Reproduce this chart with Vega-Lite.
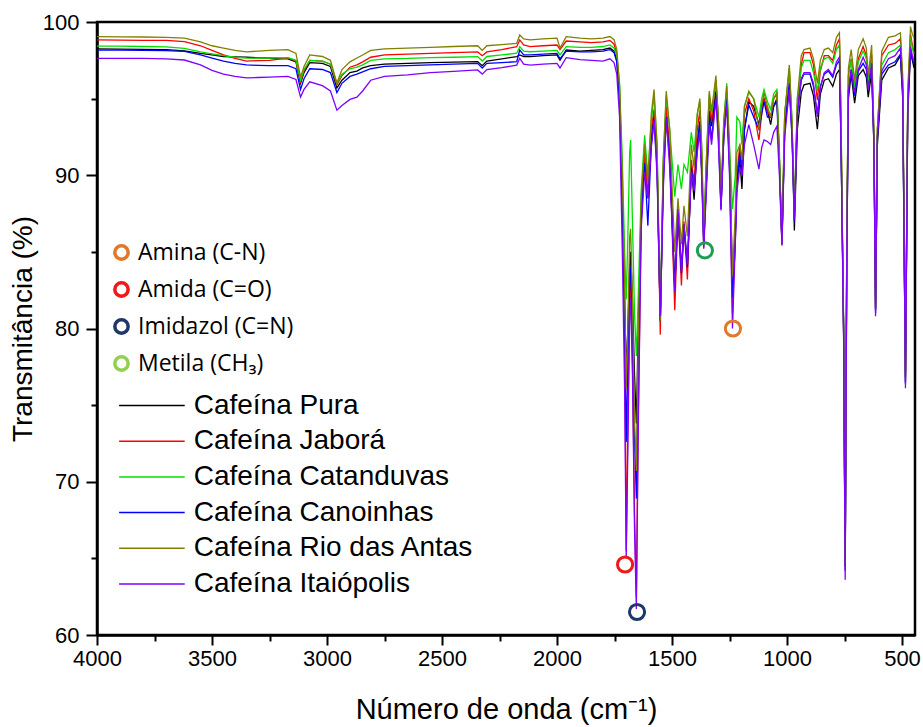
{
"$schema":"https://vega.github.io/schema/vega-lite/v6.json",
"width":818,"height":613,"autosize":"none",
"padding":{"left":97,"top":22,"right":8,"bottom":92},
"background":"white",
"config":{"view":{"stroke":"black","strokeWidth":2.5},"font":"Liberation Sans",
"axis":{"grid":false,"domainColor":"black","tickColor":"black","labelColor":"black","titleColor":"black","labelFont":"Liberation Sans","titleFont":"Liberation Sans","titleFontWeight":"normal","labelFlush":false,"labelOverlap":false}},
"datasets":{
"marks":[
{"tipo":"Amina (C-N)","x":1235,"y":80.0},
{"tipo":"Amida (C=O)","x":1704,"y":64.6},
{"tipo":"Imidazol (C=N)","x":1652,"y":61.5},
{"tipo":"Metila (CH₃)","x":1357,"y":85.1}
]},
"layer":[
{"data":{"values":[
{"s":"Pura","x":4000,"y":98.24},{"s":"Jaborá","x":4000,"y":98.83},{"s":"Catanduvas","x":4000,"y":98.43},{"s":"Canoinhas","x":4000,"y":98.17},{"s":"Rio das Antas","x":4000,"y":99.04},{"s":"Itaiópolis","x":4000,"y":97.63},
{"s":"Pura","x":3900,"y":98.23},{"s":"Jaborá","x":3900,"y":98.82},{"s":"Catanduvas","x":3900,"y":98.42},{"s":"Canoinhas","x":3900,"y":98.16},{"s":"Rio das Antas","x":3900,"y":99.03},{"s":"Itaiópolis","x":3900,"y":97.62},
{"s":"Pura","x":3800,"y":98.22},{"s":"Jaborá","x":3800,"y":98.80},{"s":"Catanduvas","x":3800,"y":98.40},{"s":"Canoinhas","x":3800,"y":98.15},{"s":"Rio das Antas","x":3800,"y":99.02},{"s":"Itaiópolis","x":3800,"y":97.62},
{"s":"Pura","x":3700,"y":98.20},{"s":"Jaborá","x":3700,"y":98.80},{"s":"Catanduvas","x":3700,"y":98.38},{"s":"Canoinhas","x":3700,"y":98.13},{"s":"Rio das Antas","x":3700,"y":99.00},{"s":"Itaiópolis","x":3700,"y":97.60},
{"s":"Pura","x":3620,"y":98.12},{"s":"Jaborá","x":3620,"y":98.72},{"s":"Catanduvas","x":3620,"y":98.28},{"s":"Canoinhas","x":3620,"y":98.08},{"s":"Rio das Antas","x":3620,"y":98.95},{"s":"Itaiópolis","x":3620,"y":97.52},
{"s":"Pura","x":3550,"y":97.95},{"s":"Jaborá","x":3550,"y":98.45},{"s":"Catanduvas","x":3550,"y":98.05},{"s":"Canoinhas","x":3550,"y":97.85},{"s":"Rio das Antas","x":3550,"y":98.70},{"s":"Itaiópolis","x":3550,"y":97.20},
{"s":"Pura","x":3500,"y":97.85},{"s":"Jaborá","x":3500,"y":98.15},{"s":"Catanduvas","x":3500,"y":97.92},{"s":"Canoinhas","x":3500,"y":97.65},{"s":"Rio das Antas","x":3500,"y":98.45},{"s":"Itaiópolis","x":3500,"y":96.85},
{"s":"Pura","x":3450,"y":97.75},{"s":"Jaborá","x":3450,"y":97.85},{"s":"Catanduvas","x":3450,"y":97.80},{"s":"Canoinhas","x":3450,"y":97.45},{"s":"Rio das Antas","x":3450,"y":98.30},{"s":"Itaiópolis","x":3450,"y":96.60},
{"s":"Pura","x":3400,"y":97.72},{"s":"Jaborá","x":3400,"y":97.62},{"s":"Catanduvas","x":3400,"y":97.70},{"s":"Canoinhas","x":3400,"y":97.30},{"s":"Rio das Antas","x":3400,"y":98.15},{"s":"Itaiópolis","x":3400,"y":96.45},
{"s":"Pura","x":3350,"y":97.70},{"s":"Jaborá","x":3350,"y":97.45},{"s":"Catanduvas","x":3350,"y":97.65},{"s":"Canoinhas","x":3350,"y":97.20},{"s":"Rio das Antas","x":3350,"y":98.05},{"s":"Itaiópolis","x":3350,"y":96.35},
{"s":"Pura","x":3300,"y":97.66},{"s":"Jaborá","x":3300,"y":97.48},{"s":"Catanduvas","x":3300,"y":97.64},{"s":"Canoinhas","x":3300,"y":97.17},{"s":"Rio das Antas","x":3300,"y":98.10},{"s":"Itaiópolis","x":3300,"y":96.38},
{"s":"Pura","x":3250,"y":97.65},{"s":"Jaborá","x":3250,"y":97.50},{"s":"Catanduvas","x":3250,"y":97.65},{"s":"Canoinhas","x":3250,"y":97.15},{"s":"Rio das Antas","x":3250,"y":98.15},{"s":"Itaiópolis","x":3250,"y":96.40},
{"s":"Pura","x":3170,"y":97.60},{"s":"Jaborá","x":3170,"y":97.65},{"s":"Catanduvas","x":3170,"y":97.68},{"s":"Canoinhas","x":3170,"y":97.15},{"s":"Rio das Antas","x":3170,"y":98.20},{"s":"Itaiópolis","x":3170,"y":96.45},
{"s":"Pura","x":3135,"y":97.40},{"s":"Jaborá","x":3135,"y":97.45},{"s":"Catanduvas","x":3135,"y":97.50},{"s":"Canoinhas","x":3135,"y":96.95},{"s":"Rio das Antas","x":3135,"y":97.95},{"s":"Itaiópolis","x":3135,"y":96.25},
{"s":"Pura","x":3115,"y":96.0},{"s":"Jaborá","x":3115,"y":96.1},{"s":"Catanduvas","x":3115,"y":96.2},{"s":"Canoinhas","x":3115,"y":95.6},{"s":"Rio das Antas","x":3115,"y":96.4},{"s":"Itaiópolis","x":3115,"y":95.1},
{"s":"Pura","x":3100,"y":96.7},{"s":"Jaborá","x":3100,"y":96.8},{"s":"Catanduvas","x":3100,"y":96.9},{"s":"Canoinhas","x":3100,"y":96.3},{"s":"Rio das Antas","x":3100,"y":97.1},{"s":"Itaiópolis","x":3100,"y":95.6},
{"s":"Pura","x":3075,"y":97.35},{"s":"Jaborá","x":3075,"y":97.5},{"s":"Catanduvas","x":3075,"y":97.5},{"s":"Canoinhas","x":3075,"y":96.95},{"s":"Rio das Antas","x":3075,"y":97.85},{"s":"Itaiópolis","x":3075,"y":96.1},
{"s":"Pura","x":3020,"y":97.3},{"s":"Jaborá","x":3020,"y":97.45},{"s":"Catanduvas","x":3020,"y":97.45},{"s":"Canoinhas","x":3020,"y":96.9},{"s":"Rio das Antas","x":3020,"y":97.75},{"s":"Itaiópolis","x":3020,"y":95.85},
{"s":"Pura","x":2985,"y":97.1},{"s":"Jaborá","x":2985,"y":97.25},{"s":"Catanduvas","x":2985,"y":97.25},{"s":"Canoinhas","x":2985,"y":96.7},{"s":"Rio das Antas","x":2985,"y":97.5},{"s":"Itaiópolis","x":2985,"y":95.5},
{"s":"Pura","x":2957,"y":95.7},{"s":"Jaborá","x":2957,"y":95.9},{"s":"Catanduvas","x":2957,"y":96.0},{"s":"Canoinhas","x":2957,"y":95.4},{"s":"Rio das Antas","x":2957,"y":96.0},{"s":"Itaiópolis","x":2957,"y":94.25},
{"s":"Pura","x":2935,"y":96.2},{"s":"Jaborá","x":2935,"y":96.5},{"s":"Catanduvas","x":2935,"y":96.6},{"s":"Canoinhas","x":2935,"y":96.0},{"s":"Rio das Antas","x":2935,"y":96.9},{"s":"Itaiópolis","x":2935,"y":94.55},
{"s":"Pura","x":2900,"y":96.7},{"s":"Jaborá","x":2900,"y":97.05},{"s":"Catanduvas","x":2900,"y":96.95},{"s":"Canoinhas","x":2900,"y":96.45},{"s":"Rio das Antas","x":2900,"y":97.4},{"s":"Itaiópolis","x":2900,"y":94.95},
{"s":"Pura","x":2870,"y":96.8},{"s":"Jaborá","x":2870,"y":97.2},{"s":"Catanduvas","x":2870,"y":97.05},{"s":"Canoinhas","x":2870,"y":96.6},{"s":"Rio das Antas","x":2870,"y":97.65},{"s":"Itaiópolis","x":2870,"y":95.1},
{"s":"Pura","x":2845,"y":97.0},{"s":"Jaborá","x":2845,"y":97.4},{"s":"Catanduvas","x":2845,"y":97.2},{"s":"Canoinhas","x":2845,"y":96.75},{"s":"Rio das Antas","x":2845,"y":97.85},{"s":"Itaiópolis","x":2845,"y":95.5},
{"s":"Pura","x":2810,"y":97.15},{"s":"Jaborá","x":2810,"y":97.7},{"s":"Catanduvas","x":2810,"y":97.5},{"s":"Canoinhas","x":2810,"y":96.95},{"s":"Rio das Antas","x":2810,"y":98.15},{"s":"Itaiópolis","x":2810,"y":96.2},
{"s":"Pura","x":2750,"y":97.25},{"s":"Jaborá","x":2750,"y":97.85},{"s":"Catanduvas","x":2750,"y":97.6},{"s":"Canoinhas","x":2750,"y":97.1},{"s":"Rio das Antas","x":2750,"y":98.25},{"s":"Itaiópolis","x":2750,"y":96.45},
{"s":"Pura","x":2650,"y":97.3},{"s":"Jaborá","x":2650,"y":97.9},{"s":"Catanduvas","x":2650,"y":97.62},{"s":"Canoinhas","x":2650,"y":97.15},{"s":"Rio das Antas","x":2650,"y":98.3},{"s":"Itaiópolis","x":2650,"y":96.55},
{"s":"Pura","x":2550,"y":97.35},{"s":"Jaborá","x":2550,"y":97.95},{"s":"Catanduvas","x":2550,"y":97.68},{"s":"Canoinhas","x":2550,"y":97.2},{"s":"Rio das Antas","x":2550,"y":98.35},{"s":"Itaiópolis","x":2550,"y":96.7},
{"s":"Pura","x":2450,"y":97.38},{"s":"Jaborá","x":2450,"y":98.0},{"s":"Catanduvas","x":2450,"y":97.7},{"s":"Canoinhas","x":2450,"y":97.25},{"s":"Rio das Antas","x":2450,"y":98.4},{"s":"Itaiópolis","x":2450,"y":96.78},
{"s":"Pura","x":2345,"y":97.42},{"s":"Jaborá","x":2345,"y":98.05},{"s":"Catanduvas","x":2345,"y":97.74},{"s":"Canoinhas","x":2345,"y":97.3},{"s":"Rio das Antas","x":2345,"y":98.45},{"s":"Itaiópolis","x":2345,"y":96.87},
{"s":"Pura","x":2325,"y":97.15},{"s":"Jaborá","x":2325,"y":97.8},{"s":"Catanduvas","x":2325,"y":97.45},{"s":"Canoinhas","x":2325,"y":97.0},{"s":"Rio das Antas","x":2325,"y":98.15},{"s":"Itaiópolis","x":2325,"y":96.6},
{"s":"Pura","x":2305,"y":97.45},{"s":"Jaborá","x":2305,"y":98.05},{"s":"Catanduvas","x":2305,"y":97.75},{"s":"Canoinhas","x":2305,"y":97.3},{"s":"Rio das Antas","x":2305,"y":98.45},{"s":"Itaiópolis","x":2305,"y":96.9},
{"s":"Pura","x":2240,"y":97.6},{"s":"Jaborá","x":2240,"y":98.2},{"s":"Catanduvas","x":2240,"y":97.85},{"s":"Canoinhas","x":2240,"y":97.35},{"s":"Rio das Antas","x":2240,"y":98.52},{"s":"Itaiópolis","x":2240,"y":97.02},
{"s":"Pura","x":2175,"y":97.74},{"s":"Jaborá","x":2175,"y":98.39},{"s":"Catanduvas","x":2175,"y":97.96},{"s":"Canoinhas","x":2175,"y":97.41},{"s":"Rio das Antas","x":2175,"y":98.61},{"s":"Itaiópolis","x":2175,"y":97.19},
{"s":"Pura","x":2162,"y":97.85},{"s":"Jaborá","x":2162,"y":98.83},{"s":"Catanduvas","x":2162,"y":98.39},{"s":"Canoinhas","x":2162,"y":98.17},{"s":"Rio das Antas","x":2162,"y":99.15},{"s":"Itaiópolis","x":2162,"y":97.63},
{"s":"Pura","x":2145,"y":97.75},{"s":"Jaborá","x":2145,"y":98.5},{"s":"Catanduvas","x":2145,"y":98.1},{"s":"Canoinhas","x":2145,"y":97.85},{"s":"Rio das Antas","x":2145,"y":98.9},{"s":"Itaiópolis","x":2145,"y":97.25},
{"s":"Pura","x":2117,"y":97.74},{"s":"Jaborá","x":2117,"y":98.39},{"s":"Catanduvas","x":2117,"y":98.06},{"s":"Canoinhas","x":2117,"y":97.85},{"s":"Rio das Antas","x":2117,"y":98.83},{"s":"Itaiópolis","x":2117,"y":97.19},
{"s":"Pura","x":2060,"y":97.8},{"s":"Jaborá","x":2060,"y":98.45},{"s":"Catanduvas","x":2060,"y":98.1},{"s":"Canoinhas","x":2060,"y":97.9},{"s":"Rio das Antas","x":2060,"y":98.9},{"s":"Itaiópolis","x":2060,"y":97.25},
{"s":"Pura","x":2000,"y":97.85},{"s":"Jaborá","x":2000,"y":98.5},{"s":"Catanduvas","x":2000,"y":98.15},{"s":"Canoinhas","x":2000,"y":97.95},{"s":"Rio das Antas","x":2000,"y":98.95},{"s":"Itaiópolis","x":2000,"y":97.3},
{"s":"Pura","x":1987,"y":97.5},{"s":"Jaborá","x":1987,"y":98.2},{"s":"Catanduvas","x":1987,"y":97.85},{"s":"Canoinhas","x":1987,"y":97.6},{"s":"Rio das Antas","x":1987,"y":98.3},{"s":"Itaiópolis","x":1987,"y":97.0},
{"s":"Pura","x":1960,"y":98.17},{"s":"Jaborá","x":1960,"y":98.76},{"s":"Catanduvas","x":1960,"y":98.39},{"s":"Canoinhas","x":1960,"y":98.10},{"s":"Rio das Antas","x":1960,"y":99.04},{"s":"Itaiópolis","x":1960,"y":97.67},
{"s":"Pura","x":1900,"y":98.1},{"s":"Jaborá","x":1900,"y":98.7},{"s":"Catanduvas","x":1900,"y":98.35},{"s":"Canoinhas","x":1900,"y":98.05},{"s":"Rio das Antas","x":1900,"y":98.95},{"s":"Itaiópolis","x":1900,"y":97.55},
{"s":"Pura","x":1850,"y":98.15},{"s":"Jaborá","x":1850,"y":98.65},{"s":"Catanduvas","x":1850,"y":98.35},{"s":"Canoinhas","x":1850,"y":98.05},{"s":"Rio das Antas","x":1850,"y":98.9},{"s":"Itaiópolis","x":1850,"y":97.5},
{"s":"Pura","x":1800,"y":98.2},{"s":"Jaborá","x":1800,"y":98.7},{"s":"Catanduvas","x":1800,"y":98.4},{"s":"Canoinhas","x":1800,"y":98.1},{"s":"Rio das Antas","x":1800,"y":98.95},{"s":"Itaiópolis","x":1800,"y":97.45},
{"s":"Pura","x":1770,"y":98.3},{"s":"Jaborá","x":1770,"y":98.8},{"s":"Catanduvas","x":1770,"y":98.5},{"s":"Canoinhas","x":1770,"y":98.2},{"s":"Rio das Antas","x":1770,"y":99.05},{"s":"Itaiópolis","x":1770,"y":97.6},
{"s":"Pura","x":1752,"y":98.1},{"s":"Jaborá","x":1752,"y":98.55},{"s":"Catanduvas","x":1752,"y":98.3},{"s":"Canoinhas","x":1752,"y":98.0},{"s":"Rio das Antas","x":1752,"y":98.85},{"s":"Itaiópolis","x":1752,"y":97.35},
{"s":"Pura","x":1740,"y":97.5},{"s":"Jaborá","x":1740,"y":97.9},{"s":"Catanduvas","x":1740,"y":97.8},{"s":"Canoinhas","x":1740,"y":97.4},{"s":"Rio das Antas","x":1740,"y":98.2},{"s":"Itaiópolis","x":1740,"y":96.6},
{"s":"Pura","x":1728,"y":95.0},{"s":"Jaborá","x":1728,"y":95.5},{"s":"Catanduvas","x":1728,"y":96.0},{"s":"Canoinhas","x":1728,"y":94.8},{"s":"Rio das Antas","x":1728,"y":95.8},{"s":"Itaiópolis","x":1728,"y":93.8},
{"s":"Pura","x":1716,"y":88},{"s":"Jaborá","x":1716,"y":89},{"s":"Catanduvas","x":1716,"y":91},{"s":"Canoinhas","x":1716,"y":88},{"s":"Rio das Antas","x":1716,"y":90},{"s":"Itaiópolis","x":1716,"y":85},
{"s":"Pura","x":1706,"y":82},{"s":"Jaborá","x":1706,"y":80},{"s":"Catanduvas","x":1706,"y":85},{"s":"Canoinhas","x":1706,"y":80},{"s":"Rio das Antas","x":1706,"y":83},{"s":"Itaiópolis","x":1706,"y":76},
{"s":"Pura","x":1699,"y":77.0},{"s":"Jaborá","x":1699,"y":65.5},{"s":"Catanduvas","x":1699,"y":81.9},{"s":"Canoinhas","x":1699,"y":72.6},{"s":"Rio das Antas","x":1699,"y":76.0},{"s":"Itaiópolis","x":1699,"y":65.0},
{"s":"Pura","x":1692,"y":80},{"s":"Jaborá","x":1692,"y":74},{"s":"Catanduvas","x":1692,"y":86},{"s":"Canoinhas","x":1692,"y":78},{"s":"Rio das Antas","x":1692,"y":80},{"s":"Itaiópolis","x":1692,"y":72},
{"s":"Pura","x":1684,"y":84},{"s":"Jaborá","x":1684,"y":82},{"s":"Catanduvas","x":1684,"y":91.5},{"s":"Canoinhas","x":1684,"y":83},{"s":"Rio das Antas","x":1684,"y":86},{"s":"Itaiópolis","x":1684,"y":81},
{"s":"Pura","x":1680,"y":85},{"s":"Jaborá","x":1680,"y":83},{"s":"Catanduvas","x":1680,"y":92.3},{"s":"Canoinhas","x":1680,"y":84},{"s":"Rio das Antas","x":1680,"y":86.5},{"s":"Itaiópolis","x":1680,"y":82},
{"s":"Pura","x":1672,"y":82},{"s":"Jaborá","x":1672,"y":78},{"s":"Catanduvas","x":1672,"y":87},{"s":"Canoinhas","x":1672,"y":80},{"s":"Rio das Antas","x":1672,"y":82},{"s":"Itaiópolis","x":1672,"y":77},
{"s":"Pura","x":1663,"y":77},{"s":"Jaborá","x":1663,"y":68},{"s":"Catanduvas","x":1663,"y":81},{"s":"Canoinhas","x":1663,"y":73},{"s":"Rio das Antas","x":1663,"y":74},{"s":"Itaiópolis","x":1663,"y":67},
{"s":"Pura","x":1655,"y":73.8},{"s":"Jaborá","x":1655,"y":62.5},{"s":"Catanduvas","x":1655,"y":78.2},{"s":"Canoinhas","x":1655,"y":68.9},{"s":"Rio das Antas","x":1655,"y":70.7},{"s":"Itaiópolis","x":1655,"y":61.7},
{"s":"Pura","x":1647,"y":80},{"s":"Jaborá","x":1647,"y":74},{"s":"Catanduvas","x":1647,"y":82},{"s":"Canoinhas","x":1647,"y":78},{"s":"Rio das Antas","x":1647,"y":79},{"s":"Itaiópolis","x":1647,"y":73},
{"s":"Pura","x":1634,"y":87.6},{"s":"Jaborá","x":1634,"y":87},{"s":"Catanduvas","x":1634,"y":89},{"s":"Canoinhas","x":1634,"y":87},{"s":"Rio das Antas","x":1634,"y":88.5},{"s":"Itaiópolis","x":1634,"y":86.5},
{"s":"Pura","x":1619,"y":91.5},{"s":"Jaborá","x":1619,"y":91.5},{"s":"Catanduvas","x":1619,"y":92.6},{"s":"Canoinhas","x":1619,"y":90.8},{"s":"Rio das Antas","x":1619,"y":92.0},{"s":"Itaiópolis","x":1619,"y":90.2},
{"s":"Pura","x":1605,"y":88.5},{"s":"Jaborá","x":1605,"y":88.5},{"s":"Catanduvas","x":1605,"y":90},{"s":"Canoinhas","x":1605,"y":86.7},{"s":"Rio das Antas","x":1605,"y":89.5},{"s":"Itaiópolis","x":1605,"y":88.5},
{"s":"Pura","x":1590,"y":92.5},{"s":"Jaborá","x":1590,"y":93},{"s":"Catanduvas","x":1590,"y":93.5},{"s":"Canoinhas","x":1590,"y":92},{"s":"Rio das Antas","x":1590,"y":94},{"s":"Itaiópolis","x":1590,"y":91.8},
{"s":"Pura","x":1578,"y":94.0},{"s":"Jaborá","x":1578,"y":94.3},{"s":"Catanduvas","x":1578,"y":95.2},{"s":"Canoinhas","x":1578,"y":93.6},{"s":"Rio das Antas","x":1578,"y":95.6},{"s":"Itaiópolis","x":1578,"y":93.6},
{"s":"Pura","x":1565,"y":91},{"s":"Jaborá","x":1565,"y":91},{"s":"Catanduvas","x":1565,"y":92},{"s":"Canoinhas","x":1565,"y":90.5},{"s":"Rio das Antas","x":1565,"y":92},{"s":"Itaiópolis","x":1565,"y":90},
{"s":"Pura","x":1551,"y":80.5},{"s":"Jaborá","x":1551,"y":79.6},{"s":"Catanduvas","x":1551,"y":81},{"s":"Canoinhas","x":1551,"y":80.5},{"s":"Rio das Antas","x":1551,"y":80.5},{"s":"Itaiópolis","x":1551,"y":80.8},
{"s":"Pura","x":1538,"y":90},{"s":"Jaborá","x":1538,"y":90.5},{"s":"Catanduvas","x":1538,"y":91},{"s":"Canoinhas","x":1538,"y":89.5},{"s":"Rio das Antas","x":1538,"y":91},{"s":"Itaiópolis","x":1538,"y":89},
{"s":"Pura","x":1525,"y":94.2},{"s":"Jaborá","x":1525,"y":94.5},{"s":"Catanduvas","x":1525,"y":95.2},{"s":"Canoinhas","x":1525,"y":93.8},{"s":"Rio das Antas","x":1525,"y":95.5},{"s":"Itaiópolis","x":1525,"y":93.7},
{"s":"Pura","x":1510,"y":91.5},{"s":"Jaborá","x":1510,"y":91.5},{"s":"Catanduvas","x":1510,"y":93},{"s":"Canoinhas","x":1510,"y":91},{"s":"Rio das Antas","x":1510,"y":93},{"s":"Itaiópolis","x":1510,"y":90.5},
{"s":"Pura","x":1488,"y":82.8},{"s":"Jaborá","x":1488,"y":81.2},{"s":"Catanduvas","x":1488,"y":88.6},{"s":"Canoinhas","x":1488,"y":82.6},{"s":"Rio das Antas","x":1488,"y":85},{"s":"Itaiópolis","x":1488,"y":82.4},
{"s":"Pura","x":1474,"y":87.5},{"s":"Jaborá","x":1474,"y":87.5},{"s":"Catanduvas","x":1474,"y":90.7},{"s":"Canoinhas","x":1474,"y":87.5},{"s":"Rio das Antas","x":1474,"y":88.5},{"s":"Itaiópolis","x":1474,"y":87.8},
{"s":"Pura","x":1459,"y":83.8},{"s":"Jaborá","x":1459,"y":82.8},{"s":"Catanduvas","x":1459,"y":89.1},{"s":"Canoinhas","x":1459,"y":83.6},{"s":"Rio das Antas","x":1459,"y":85.5},{"s":"Itaiópolis","x":1459,"y":83.7},
{"s":"Pura","x":1448,"y":86.8},{"s":"Jaborá","x":1448,"y":87},{"s":"Catanduvas","x":1448,"y":90.7},{"s":"Canoinhas","x":1448,"y":86.5},{"s":"Rio das Antas","x":1448,"y":88},{"s":"Itaiópolis","x":1448,"y":86.8},
{"s":"Pura","x":1433,"y":84},{"s":"Jaborá","x":1433,"y":83.2},{"s":"Catanduvas","x":1433,"y":90.2},{"s":"Canoinhas","x":1433,"y":84},{"s":"Rio das Antas","x":1433,"y":86},{"s":"Itaiópolis","x":1433,"y":84.2},
{"s":"Pura","x":1416,"y":90.5},{"s":"Jaborá","x":1416,"y":91},{"s":"Catanduvas","x":1416,"y":92.8},{"s":"Canoinhas","x":1416,"y":90.5},{"s":"Rio das Antas","x":1416,"y":92.0},{"s":"Itaiópolis","x":1416,"y":90.2},
{"s":"Pura","x":1404,"y":88.4},{"s":"Jaborá","x":1404,"y":89.5},{"s":"Catanduvas","x":1404,"y":91.5},{"s":"Canoinhas","x":1404,"y":89},{"s":"Rio das Antas","x":1404,"y":90.5},{"s":"Itaiópolis","x":1404,"y":89},
{"s":"Pura","x":1390,"y":92},{"s":"Jaborá","x":1390,"y":93},{"s":"Catanduvas","x":1390,"y":94},{"s":"Canoinhas","x":1390,"y":92},{"s":"Rio das Antas","x":1390,"y":94},{"s":"Itaiópolis","x":1390,"y":91.5},
{"s":"Pura","x":1379,"y":93.5},{"s":"Jaborá","x":1379,"y":94.2},{"s":"Catanduvas","x":1379,"y":94.8},{"s":"Canoinhas","x":1379,"y":93.5},{"s":"Rio das Antas","x":1379,"y":95.0},{"s":"Itaiópolis","x":1379,"y":92.8},
{"s":"Pura","x":1370,"y":90},{"s":"Jaborá","x":1370,"y":91},{"s":"Catanduvas","x":1370,"y":91.5},{"s":"Canoinhas","x":1370,"y":90},{"s":"Rio das Antas","x":1370,"y":91.5},{"s":"Itaiópolis","x":1370,"y":89.5},
{"s":"Pura","x":1362,"y":85.5},{"s":"Jaborá","x":1362,"y":85.3},{"s":"Catanduvas","x":1362,"y":86},{"s":"Canoinhas","x":1362,"y":85.5},{"s":"Rio das Antas","x":1362,"y":85.8},{"s":"Itaiópolis","x":1362,"y":85.2},
{"s":"Pura","x":1352,"y":89},{"s":"Jaborá","x":1352,"y":90},{"s":"Catanduvas","x":1352,"y":90.5},{"s":"Canoinhas","x":1352,"y":89},{"s":"Rio das Antas","x":1352,"y":90.5},{"s":"Itaiópolis","x":1352,"y":88.5},
{"s":"Pura","x":1338,"y":94.2},{"s":"Jaborá","x":1338,"y":95},{"s":"Catanduvas","x":1338,"y":95.3},{"s":"Canoinhas","x":1338,"y":94},{"s":"Rio das Antas","x":1338,"y":95.5},{"s":"Itaiópolis","x":1338,"y":93.3},
{"s":"Pura","x":1328,"y":93.2},{"s":"Jaborá","x":1328,"y":93.5},{"s":"Catanduvas","x":1328,"y":94},{"s":"Canoinhas","x":1328,"y":92.3},{"s":"Rio das Antas","x":1328,"y":94.2},{"s":"Itaiópolis","x":1328,"y":92.0},
{"s":"Pura","x":1309,"y":95.5},{"s":"Jaborá","x":1309,"y":96.2},{"s":"Catanduvas","x":1309,"y":96.2},{"s":"Canoinhas","x":1309,"y":95.3},{"s":"Rio das Antas","x":1309,"y":96.5},{"s":"Itaiópolis","x":1309,"y":95.0},
{"s":"Pura","x":1298,"y":93},{"s":"Jaborá","x":1298,"y":93.5},{"s":"Catanduvas","x":1298,"y":93.5},{"s":"Canoinhas","x":1298,"y":92.5},{"s":"Rio das Antas","x":1298,"y":93.5},{"s":"Itaiópolis","x":1298,"y":92},
{"s":"Pura","x":1287,"y":88},{"s":"Jaborá","x":1287,"y":88},{"s":"Catanduvas","x":1287,"y":88.5},{"s":"Canoinhas","x":1287,"y":87.8},{"s":"Rio das Antas","x":1287,"y":88.3},{"s":"Itaiópolis","x":1287,"y":87.7},
{"s":"Pura","x":1275,"y":92.5},{"s":"Jaborá","x":1275,"y":93},{"s":"Catanduvas","x":1275,"y":93.5},{"s":"Canoinhas","x":1275,"y":92.5},{"s":"Rio das Antas","x":1275,"y":93.5},{"s":"Itaiópolis","x":1275,"y":92.5},
{"s":"Pura","x":1262,"y":95},{"s":"Jaborá","x":1262,"y":95.5},{"s":"Catanduvas","x":1262,"y":96.0},{"s":"Canoinhas","x":1262,"y":95},{"s":"Rio das Antas","x":1262,"y":95.8},{"s":"Itaiópolis","x":1262,"y":94.6},
{"s":"Pura","x":1250,"y":91},{"s":"Jaborá","x":1250,"y":91},{"s":"Catanduvas","x":1250,"y":92},{"s":"Canoinhas","x":1250,"y":90.5},{"s":"Rio das Antas","x":1250,"y":91.5},{"s":"Itaiópolis","x":1250,"y":90},
{"s":"Pura","x":1237,"y":83.4},{"s":"Jaborá","x":1237,"y":81},{"s":"Catanduvas","x":1237,"y":87.8},{"s":"Canoinhas","x":1237,"y":82},{"s":"Rio das Antas","x":1237,"y":83.4},{"s":"Itaiópolis","x":1237,"y":80.0},
{"s":"Pura","x":1225,"y":86},{"s":"Jaborá","x":1225,"y":86},{"s":"Catanduvas","x":1225,"y":90},{"s":"Canoinhas","x":1225,"y":85.5},{"s":"Rio das Antas","x":1225,"y":87.5},{"s":"Itaiópolis","x":1225,"y":85.5},
{"s":"Pura","x":1218,"y":89.5},{"s":"Jaborá","x":1218,"y":90},{"s":"Catanduvas","x":1218,"y":93.8},{"s":"Canoinhas","x":1218,"y":89.5},{"s":"Rio das Antas","x":1218,"y":91.5},{"s":"Itaiópolis","x":1218,"y":88.9},
{"s":"Pura","x":1205,"y":91},{"s":"Jaborá","x":1205,"y":92},{"s":"Catanduvas","x":1205,"y":93.5},{"s":"Canoinhas","x":1205,"y":91.5},{"s":"Rio das Antas","x":1205,"y":92},{"s":"Itaiópolis","x":1205,"y":90.5},
{"s":"Pura","x":1196,"y":89.1},{"s":"Jaborá","x":1196,"y":90.5},{"s":"Catanduvas","x":1196,"y":92},{"s":"Canoinhas","x":1196,"y":90},{"s":"Rio das Antas","x":1196,"y":91},{"s":"Itaiópolis","x":1196,"y":90},
{"s":"Pura","x":1185,"y":93},{"s":"Jaborá","x":1185,"y":94},{"s":"Catanduvas","x":1185,"y":94.5},{"s":"Canoinhas","x":1185,"y":93},{"s":"Rio das Antas","x":1185,"y":94.5},{"s":"Itaiópolis","x":1185,"y":92},
{"s":"Pura","x":1166,"y":94.8},{"s":"Jaborá","x":1166,"y":95.0},{"s":"Catanduvas","x":1166,"y":95.4},{"s":"Canoinhas","x":1166,"y":94.6},{"s":"Rio das Antas","x":1166,"y":95.5},{"s":"Itaiópolis","x":1166,"y":93.3},
{"s":"Pura","x":1145,"y":94.5},{"s":"Jaborá","x":1145,"y":94.2},{"s":"Catanduvas","x":1145,"y":95.0},{"s":"Canoinhas","x":1145,"y":93.8},{"s":"Rio das Antas","x":1145,"y":95.0},{"s":"Itaiópolis","x":1145,"y":92},
{"s":"Pura","x":1122,"y":93.3},{"s":"Jaborá","x":1122,"y":92.3},{"s":"Catanduvas","x":1122,"y":93.8},{"s":"Canoinhas","x":1122,"y":93.0},{"s":"Rio das Antas","x":1122,"y":93.0},{"s":"Itaiópolis","x":1122,"y":90.4},
{"s":"Pura","x":1110,"y":94.5},{"s":"Jaborá","x":1110,"y":94},{"s":"Catanduvas","x":1110,"y":95},{"s":"Canoinhas","x":1110,"y":94},{"s":"Rio das Antas","x":1110,"y":94.5},{"s":"Itaiópolis","x":1110,"y":91.8},
{"s":"Pura","x":1100,"y":95.0},{"s":"Jaborá","x":1100,"y":95.0},{"s":"Catanduvas","x":1100,"y":95.6},{"s":"Canoinhas","x":1100,"y":94.8},{"s":"Rio das Antas","x":1100,"y":95.4},{"s":"Itaiópolis","x":1100,"y":92.3},
{"s":"Pura","x":1085,"y":94.2},{"s":"Jaborá","x":1085,"y":94.2},{"s":"Catanduvas","x":1085,"y":94.8},{"s":"Canoinhas","x":1085,"y":93.8},{"s":"Rio das Antas","x":1085,"y":94.5},{"s":"Itaiópolis","x":1085,"y":92.2},
{"s":"Pura","x":1071,"y":93.3},{"s":"Jaborá","x":1071,"y":93.8},{"s":"Catanduvas","x":1071,"y":94.3},{"s":"Canoinhas","x":1071,"y":93.8},{"s":"Rio das Antas","x":1071,"y":93.8},{"s":"Itaiópolis","x":1071,"y":92.0},
{"s":"Pura","x":1058,"y":94.5},{"s":"Jaborá","x":1058,"y":95},{"s":"Catanduvas","x":1058,"y":95.3},{"s":"Canoinhas","x":1058,"y":94.5},{"s":"Rio das Antas","x":1058,"y":95},{"s":"Itaiópolis","x":1058,"y":92.8},
{"s":"Pura","x":1044,"y":95.0},{"s":"Jaborá","x":1044,"y":95.3},{"s":"Catanduvas","x":1044,"y":95.6},{"s":"Canoinhas","x":1044,"y":94.8},{"s":"Rio das Antas","x":1044,"y":95.4},{"s":"Itaiópolis","x":1044,"y":93.2},
{"s":"Pura","x":1033,"y":91},{"s":"Jaborá","x":1033,"y":91},{"s":"Catanduvas","x":1033,"y":91.5},{"s":"Canoinhas","x":1033,"y":90.5},{"s":"Rio das Antas","x":1033,"y":91},{"s":"Itaiópolis","x":1033,"y":90},
{"s":"Pura","x":1022,"y":85.6},{"s":"Jaborá","x":1022,"y":85.5},{"s":"Catanduvas","x":1022,"y":85.8},{"s":"Canoinhas","x":1022,"y":85.5},{"s":"Rio das Antas","x":1022,"y":85.6},{"s":"Itaiópolis","x":1022,"y":85.4},
{"s":"Pura","x":1010,"y":93},{"s":"Jaborá","x":1010,"y":94},{"s":"Catanduvas","x":1010,"y":94},{"s":"Canoinhas","x":1010,"y":93},{"s":"Rio das Antas","x":1010,"y":94},{"s":"Itaiópolis","x":1010,"y":92.5},
{"s":"Pura","x":990,"y":95.8},{"s":"Jaborá","x":990,"y":96.8},{"s":"Catanduvas","x":990,"y":97.0},{"s":"Canoinhas","x":990,"y":96.0},{"s":"Rio das Antas","x":990,"y":97.2},{"s":"Itaiópolis","x":990,"y":95.6},
{"s":"Pura","x":978,"y":93},{"s":"Jaborá","x":978,"y":93},{"s":"Catanduvas","x":978,"y":93.5},{"s":"Canoinhas","x":978,"y":92.5},{"s":"Rio das Antas","x":978,"y":93.5},{"s":"Itaiópolis","x":978,"y":92.5},
{"s":"Pura","x":968,"y":86.4},{"s":"Jaborá","x":968,"y":87.5},{"s":"Catanduvas","x":968,"y":87.5},{"s":"Canoinhas","x":968,"y":87},{"s":"Rio das Antas","x":968,"y":87.3},{"s":"Itaiópolis","x":968,"y":87.1},
{"s":"Pura","x":955,"y":93},{"s":"Jaborá","x":955,"y":94.5},{"s":"Catanduvas","x":955,"y":95},{"s":"Canoinhas","x":955,"y":94},{"s":"Rio das Antas","x":955,"y":95},{"s":"Itaiópolis","x":955,"y":94},
{"s":"Pura","x":938,"y":95.4},{"s":"Jaborá","x":938,"y":97.2},{"s":"Catanduvas","x":938,"y":97.0},{"s":"Canoinhas","x":938,"y":96.2},{"s":"Rio das Antas","x":938,"y":97.8},{"s":"Itaiópolis","x":938,"y":96.3},
{"s":"Pura","x":926,"y":95.9},{"s":"Jaborá","x":926,"y":98.0},{"s":"Catanduvas","x":926,"y":97.5},{"s":"Canoinhas","x":926,"y":96.6},{"s":"Rio das Antas","x":926,"y":98.2},{"s":"Itaiópolis","x":926,"y":96.7},
{"s":"Pura","x":900,"y":96.0},{"s":"Jaborá","x":900,"y":98.0},{"s":"Catanduvas","x":900,"y":97.5},{"s":"Canoinhas","x":900,"y":96.6},{"s":"Rio das Antas","x":900,"y":98.3},{"s":"Itaiópolis","x":900,"y":96.7},
{"s":"Pura","x":885,"y":95.2},{"s":"Jaborá","x":885,"y":97.2},{"s":"Catanduvas","x":885,"y":96.7},{"s":"Canoinhas","x":885,"y":95.8},{"s":"Rio das Antas","x":885,"y":97.6},{"s":"Itaiópolis","x":885,"y":96.0},
{"s":"Pura","x":868,"y":93.0},{"s":"Jaborá","x":868,"y":94.9},{"s":"Catanduvas","x":868,"y":95.5},{"s":"Canoinhas","x":868,"y":94},{"s":"Rio das Antas","x":868,"y":96.0},{"s":"Itaiópolis","x":868,"y":93.8},
{"s":"Pura","x":855,"y":95.3},{"s":"Jaborá","x":855,"y":96.8},{"s":"Catanduvas","x":855,"y":97.0},{"s":"Canoinhas","x":855,"y":95.8},{"s":"Rio das Antas","x":855,"y":97.5},{"s":"Itaiópolis","x":855,"y":95.7},
{"s":"Pura","x":838,"y":96.2},{"s":"Jaborá","x":838,"y":97.8},{"s":"Catanduvas","x":838,"y":97.6},{"s":"Canoinhas","x":838,"y":96.6},{"s":"Rio das Antas","x":838,"y":98.2},{"s":"Itaiópolis","x":838,"y":96.7},
{"s":"Pura","x":820,"y":96.3},{"s":"Jaborá","x":820,"y":97.8},{"s":"Catanduvas","x":820,"y":97.7},{"s":"Canoinhas","x":820,"y":96.8},{"s":"Rio das Antas","x":820,"y":98.3},{"s":"Itaiópolis","x":820,"y":96.9},
{"s":"Pura","x":801,"y":95.8},{"s":"Jaborá","x":801,"y":97.5},{"s":"Catanduvas","x":801,"y":97.3},{"s":"Canoinhas","x":801,"y":96.4},{"s":"Rio das Antas","x":801,"y":98.0},{"s":"Itaiópolis","x":801,"y":96.5},
{"s":"Pura","x":785,"y":96.6},{"s":"Jaborá","x":785,"y":98.5},{"s":"Catanduvas","x":785,"y":98.2},{"s":"Canoinhas","x":785,"y":97.2},{"s":"Rio das Antas","x":785,"y":99.0},{"s":"Itaiópolis","x":785,"y":97.4},
{"s":"Pura","x":772,"y":96.9},{"s":"Jaborá","x":772,"y":98.9},{"s":"Catanduvas","x":772,"y":98.5},{"s":"Canoinhas","x":772,"y":97.5},{"s":"Rio das Antas","x":772,"y":99.3},{"s":"Itaiópolis","x":772,"y":97.7},
{"s":"Pura","x":765,"y":92},{"s":"Jaborá","x":765,"y":93},{"s":"Catanduvas","x":765,"y":93.5},{"s":"Canoinhas","x":765,"y":92},{"s":"Rio das Antas","x":765,"y":94},{"s":"Itaiópolis","x":765,"y":92},
{"s":"Pura","x":760,"y":86.5},{"s":"Jaborá","x":760,"y":87},{"s":"Catanduvas","x":760,"y":87.5},{"s":"Canoinhas","x":760,"y":86.6},{"s":"Rio das Antas","x":760,"y":87.2},{"s":"Itaiópolis","x":760,"y":86.4},
{"s":"Pura","x":754,"y":80},{"s":"Jaborá","x":754,"y":80},{"s":"Catanduvas","x":754,"y":80.5},{"s":"Canoinhas","x":754,"y":80},{"s":"Rio das Antas","x":754,"y":80.2},{"s":"Itaiópolis","x":754,"y":79.5},
{"s":"Pura","x":747,"y":64.5},{"s":"Jaborá","x":747,"y":64.5},{"s":"Catanduvas","x":747,"y":65},{"s":"Canoinhas","x":747,"y":64.2},{"s":"Rio das Antas","x":747,"y":64.6},{"s":"Itaiópolis","x":747,"y":63.6},
{"s":"Pura","x":740,"y":85},{"s":"Jaborá","x":740,"y":86},{"s":"Catanduvas","x":740,"y":86},{"s":"Canoinhas","x":740,"y":85},{"s":"Rio das Antas","x":740,"y":86},{"s":"Itaiópolis","x":740,"y":84.5},
{"s":"Pura","x":733,"y":95},{"s":"Jaborá","x":733,"y":96.5},{"s":"Catanduvas","x":733,"y":96.5},{"s":"Canoinhas","x":733,"y":95.5},{"s":"Rio das Antas","x":733,"y":97},{"s":"Itaiópolis","x":733,"y":95.5},
{"s":"Pura","x":721,"y":96.6},{"s":"Jaborá","x":721,"y":97.6},{"s":"Catanduvas","x":721,"y":97.5},{"s":"Canoinhas","x":721,"y":96.9},{"s":"Rio das Antas","x":721,"y":98.2},{"s":"Itaiópolis","x":721,"y":96.9},
{"s":"Pura","x":706,"y":94.7},{"s":"Jaborá","x":706,"y":95.8},{"s":"Catanduvas","x":706,"y":95.8},{"s":"Canoinhas","x":706,"y":95.2},{"s":"Rio das Antas","x":706,"y":96.2},{"s":"Itaiópolis","x":706,"y":95.4},
{"s":"Pura","x":690,"y":96.5},{"s":"Jaborá","x":690,"y":97.6},{"s":"Catanduvas","x":690,"y":97.4},{"s":"Canoinhas","x":690,"y":96.8},{"s":"Rio das Antas","x":690,"y":98.2},{"s":"Itaiópolis","x":690,"y":96.9},
{"s":"Pura","x":669,"y":96.9},{"s":"Jaborá","x":669,"y":98.4},{"s":"Catanduvas","x":669,"y":98.1},{"s":"Canoinhas","x":669,"y":97.3},{"s":"Rio das Antas","x":669,"y":98.9},{"s":"Itaiópolis","x":669,"y":97.7},
{"s":"Pura","x":655,"y":96.4},{"s":"Jaborá","x":655,"y":97.8},{"s":"Catanduvas","x":655,"y":97.6},{"s":"Canoinhas","x":655,"y":96.9},{"s":"Rio das Antas","x":655,"y":98.3},{"s":"Itaiópolis","x":655,"y":97.2},
{"s":"Pura","x":647,"y":95.1},{"s":"Jaborá","x":647,"y":96.0},{"s":"Catanduvas","x":647,"y":96.0},{"s":"Canoinhas","x":647,"y":95.6},{"s":"Rio das Antas","x":647,"y":96.5},{"s":"Itaiópolis","x":647,"y":95.6},
{"s":"Pura","x":632,"y":96.7},{"s":"Jaborá","x":632,"y":97.9},{"s":"Catanduvas","x":632,"y":97.6},{"s":"Canoinhas","x":632,"y":97.1},{"s":"Rio das Antas","x":632,"y":98.5},{"s":"Itaiópolis","x":632,"y":97.3},
{"s":"Pura","x":622,"y":92},{"s":"Jaborá","x":622,"y":92.5},{"s":"Catanduvas","x":622,"y":92.5},{"s":"Canoinhas","x":622,"y":92},{"s":"Rio das Antas","x":622,"y":92.8},{"s":"Itaiópolis","x":622,"y":91.8},
{"s":"Pura","x":615,"y":81.2},{"s":"Jaborá","x":615,"y":81.3},{"s":"Catanduvas","x":615,"y":81.5},{"s":"Canoinhas","x":615,"y":81.0},{"s":"Rio das Antas","x":615,"y":81.4},{"s":"Itaiópolis","x":615,"y":80.8},
{"s":"Pura","x":607,"y":92},{"s":"Jaborá","x":607,"y":93},{"s":"Catanduvas","x":607,"y":93},{"s":"Canoinhas","x":607,"y":92.5},{"s":"Rio das Antas","x":607,"y":93},{"s":"Itaiópolis","x":607,"y":92.5},
{"s":"Pura","x":588,"y":96.2},{"s":"Jaborá","x":588,"y":97.8},{"s":"Catanduvas","x":588,"y":97.2},{"s":"Canoinhas","x":588,"y":96.6},{"s":"Rio das Antas","x":588,"y":98.1},{"s":"Itaiópolis","x":588,"y":96.8},
{"s":"Pura","x":559,"y":97.0},{"s":"Jaborá","x":559,"y":98.5},{"s":"Catanduvas","x":559,"y":98.0},{"s":"Canoinhas","x":559,"y":97.2},{"s":"Rio das Antas","x":559,"y":99.0},{"s":"Itaiópolis","x":559,"y":97.6},
{"s":"Pura","x":530,"y":97.2},{"s":"Jaborá","x":530,"y":98.6},{"s":"Catanduvas","x":530,"y":98.2},{"s":"Canoinhas","x":530,"y":97.4},{"s":"Rio das Antas","x":530,"y":99.1},{"s":"Itaiópolis","x":530,"y":97.8},
{"s":"Pura","x":507,"y":97.8},{"s":"Jaborá","x":507,"y":98.9},{"s":"Catanduvas","x":507,"y":98.5},{"s":"Canoinhas","x":507,"y":97.9},{"s":"Rio das Antas","x":507,"y":99.3},{"s":"Itaiópolis","x":507,"y":98.3},
{"s":"Pura","x":497,"y":95},{"s":"Jaborá","x":497,"y":96},{"s":"Catanduvas","x":497,"y":96},{"s":"Canoinhas","x":497,"y":95.5},{"s":"Rio das Antas","x":497,"y":96.5},{"s":"Itaiópolis","x":497,"y":95.5},
{"s":"Pura","x":485,"y":76.5},{"s":"Jaborá","x":485,"y":76.8},{"s":"Catanduvas","x":485,"y":77.0},{"s":"Canoinhas","x":485,"y":76.4},{"s":"Rio das Antas","x":485,"y":76.8},{"s":"Itaiópolis","x":485,"y":76.1},
{"s":"Pura","x":475,"y":94},{"s":"Jaborá","x":475,"y":95},{"s":"Catanduvas","x":475,"y":95},{"s":"Canoinhas","x":475,"y":94.5},{"s":"Rio das Antas","x":475,"y":95.5},{"s":"Itaiópolis","x":475,"y":94.5},
{"s":"Pura","x":463,"y":98.0},{"s":"Jaborá","x":463,"y":99.2},{"s":"Catanduvas","x":463,"y":99.0},{"s":"Canoinhas","x":463,"y":98.2},{"s":"Rio das Antas","x":463,"y":99.7},{"s":"Itaiópolis","x":463,"y":98.4},
{"s":"Pura","x":455,"y":97.5},{"s":"Jaborá","x":455,"y":98.5},{"s":"Catanduvas","x":455,"y":98.3},{"s":"Canoinhas","x":455,"y":97.6},{"s":"Rio das Antas","x":455,"y":99.2},{"s":"Itaiópolis","x":455,"y":97.8},
{"s":"Pura","x":448,"y":97.0},{"s":"Jaborá","x":448,"y":98.0},{"s":"Catanduvas","x":448,"y":97.9},{"s":"Canoinhas","x":448,"y":97.3},{"s":"Rio das Antas","x":448,"y":99.0},{"s":"Itaiópolis","x":448,"y":97.4}
]},
"mark":{"type":"line","strokeWidth":1.3,"clip":true},
"encoding":{
"x":{"field":"x","type":"quantitative","scale":{"domain":[4000,443.5],"nice":false,"zero":false},
"axis":{"orient":"bottom","values":[4000,3750,3500,3250,3000,2750,2500,2250,2000,1750,1500,1250,1000,750,500],"format":"d","labelExpr":"datum.value % 500 === 0 ? datum.label : ''","title":"Número de onda (cm⁻¹)","labelFontSize":22,"titleFontSize":29,"tickSize":{"condition":{"test":"datum.value % 500 !== 0","value":6},"value":10},"tickWidth":2,"domainWidth":2.5,"labelPadding":3,"titlePadding":26}},
"y":{"field":"y","type":"quantitative","scale":{"domain":[60,100],"nice":false,"zero":false},
"axis":{"orient":"left","values":[60,65,70,75,80,85,90,95,100],"labelExpr":"datum.value % 10 === 0 ? datum.label : ''","title":"Transmitância (%)","labelFontSize":22,"titleFontSize":28,"tickSize":{"condition":{"test":"datum.value % 10 !== 0","value":6},"value":11},"tickWidth":2,"domainWidth":2.5,"labelPadding":7,"titlePadding":5}},
"color":{"field":"s","type":"nominal","scale":{"domain":["Pura","Jaborá","Catanduvas","Canoinhas","Rio das Antas","Itaiópolis"],"range":["#000000","#FF0000","#00E000","#0000FF","#808000","#8000FF"]},
"legend":{"orient":"none","legendX":40.9,"legendY":369.5,"title":null,"padding":0,"symbolType":"M-4,0H4","symbolSize":269,"symbolStrokeWidth":1.5,"symbolOffset":0,"labelOffset":27.8,"labelFontSize":28,"labelFont":"Liberation Sans","labelColor":"black","rowPadding":7.7,"labelLimit":500,"labelExpr":"'Cafeína ' + datum.label"}}
}},
{"data":{"name":"marks"},
"mark":{"type":"point","filled":false,"shape":"circle","size":230,"strokeWidth":3,"opacity":1},
"encoding":{
"x":{"field":"x","type":"quantitative"},
"y":{"field":"y","type":"quantitative"},
"stroke":{"field":"tipo","type":"nominal","condition":{"test":"datum.tipo === 'Metila (CH₃)'","value":"#1E9E55"},
"scale":{"domain":["Amina (C-N)","Amida (C=O)","Imidazol (C=N)","Metila (CH₃)"],"range":["#E2782A","#F01818","#1F3868","#92D050"]},
"legend":{"orient":"none","legendX":13,"legendY":219,"title":null,"padding":0,"symbolType":"circle","symbolSize":177,"symbolStrokeWidth":3.5,"symbolFillColor":"transparent","symbolOffset":0,"labelOffset":5,"labelFontSize":23,"labelFont":"Open Sans","labelColor":"black","rowPadding":8,"labelLimit":400}}
}}
]
}
